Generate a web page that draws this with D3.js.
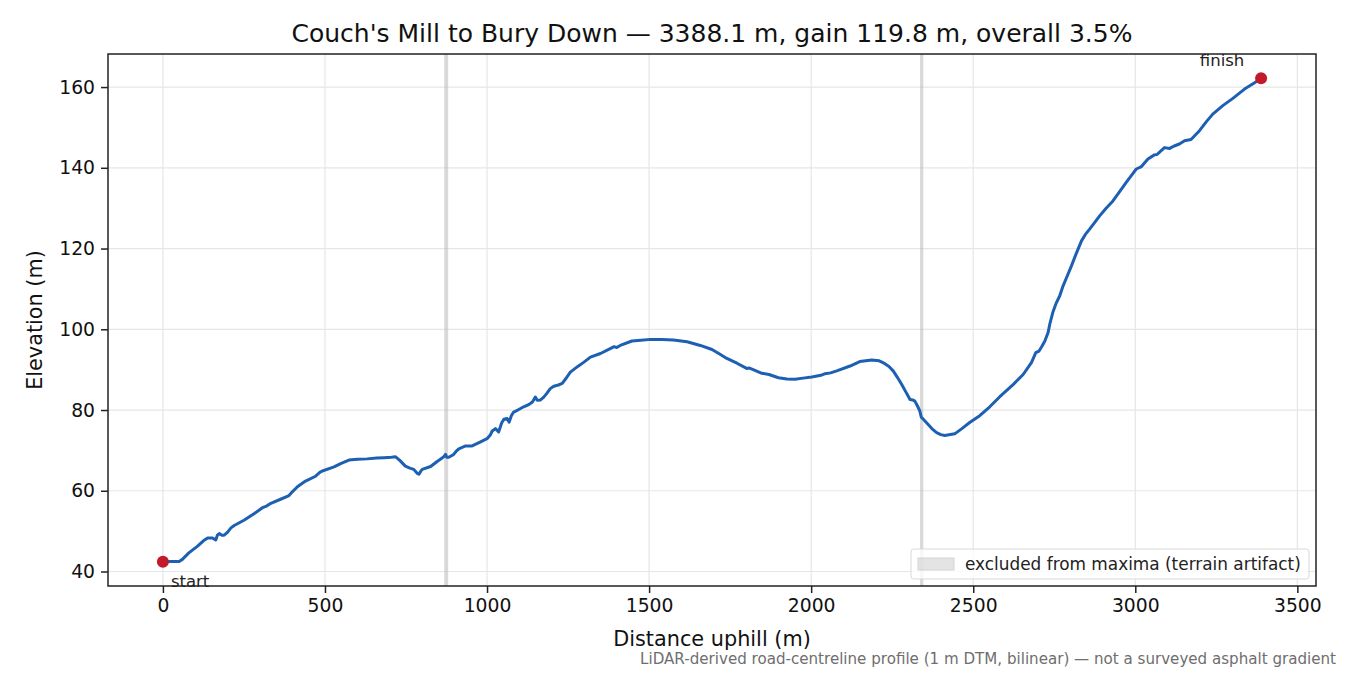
<!DOCTYPE html>
<html>
<head>
<meta charset="utf-8">
<script src="https://cdn.jsdelivr.net/npm/d3@7"></script>
<style>
  body { margin: 0; background: #fff; }
  text { font-family: "DejaVu Sans", sans-serif; }
</style>
</head>
<body>
<div class="chart"></div>
<script>
// profile samples
var distance = [0, 25, 50, 60, 80, 107, 125, 138, 153, 163, 168, 174, 182, 189, 199, 210, 220, 250, 281, 307,
  320, 333, 363, 389, 400, 415, 440, 471, 485, 492, 528, 550, 574, 600, 630, 660, 682, 705, 718, 730,
  748, 762, 774, 785, 790, 795, 800, 826, 845, 856, 866, 872, 876, 882, 897, 905, 913, 925, 934, 954,
  980, 1000, 1010, 1016, 1026, 1036, 1045, 1052, 1062, 1068, 1075, 1082, 1095, 1113, 1130, 1140, 1149, 1155, 1165, 1175,
  1185, 1195, 1206, 1220, 1232, 1245, 1257, 1280, 1298, 1319, 1350, 1380, 1392, 1400, 1411, 1447, 1475, 1504, 1540, 1575,
  1617, 1658, 1694, 1715, 1735, 1771, 1801, 1810, 1848, 1870, 1899, 1925, 1950, 1975, 2002, 2030, 2043, 2060, 2079, 2120,
  2150, 2187, 2210, 2223, 2240, 2253, 2266, 2279, 2292, 2305, 2313, 2320, 2328, 2335, 2340, 2346, 2361, 2375, 2387, 2400,
  2412, 2443, 2465, 2489, 2520, 2551, 2582, 2623, 2654, 2680, 2693, 2703, 2712, 2721, 2731, 2736, 2746, 2756, 2767, 2777,
  2790, 2803, 2818, 2834, 2846, 2859, 2875, 2890, 2910, 2931, 2950, 2972, 2990, 3003, 3019, 3039, 3059, 3067, 3075, 3090,
  3106, 3120, 3136, 3152, 3172, 3198, 3220, 3239, 3270, 3301, 3337, 3373, 3388.1];
var elevation = [42.4, 42.5, 42.5, 43.0, 44.6, 46.3, 47.6, 48.3, 48.3, 47.8, 49.0, 49.4, 49.0, 49.0, 49.7, 50.8, 51.4, 52.7, 54.3, 55.8,
  56.2, 56.9, 57.9, 58.8, 59.8, 61.0, 62.4, 63.6, 64.6, 64.9, 65.9, 66.8, 67.6, 67.8, 67.9, 68.1, 68.2, 68.3, 68.4, 67.6,
  66.1, 65.6, 65.3, 64.3, 64.1, 64.8, 65.3, 66.0, 67.2, 67.8, 68.4, 69.0, 68.3, 68.3, 69.0, 69.8, 70.4, 70.8, 71.1, 71.1,
  72.1, 72.9, 73.8, 74.8, 75.4, 74.6, 76.8, 77.7, 77.9, 77.0, 78.6, 79.5, 80.0, 80.8, 81.4, 82.0, 83.2, 82.4, 82.5, 83.2,
  84.2, 85.3, 85.9, 86.2, 86.6, 88.0, 89.4, 90.8, 91.8, 93.1, 94.0, 95.2, 95.7, 95.5, 96.0, 97.1, 97.3, 97.5, 97.45, 97.35,
  96.9, 96.0, 95.0, 94.0, 93.0, 91.6, 90.3, 90.4, 89.1, 88.8, 88.0, 87.7, 87.6, 87.9, 88.2, 88.6, 89.0, 89.2, 89.7, 90.9,
  92.0, 92.4, 92.2, 91.7, 90.8, 89.7, 88.1, 86.4, 84.5, 82.6, 82.5, 82.2, 81.0, 79.8, 78.2, 77.7, 76.4, 75.2, 74.4, 73.9,
  73.7, 74.1, 75.4, 76.9, 78.6, 80.8, 83.3, 86.3, 88.8, 91.8, 94.2, 94.6, 95.8, 97.1, 99.2, 101.2, 104.3, 106.5, 108.3, 110.7,
  113.2, 115.7, 118.8, 121.9, 123.5, 124.8, 126.5, 128.1, 130.0, 131.8, 133.9, 136.4, 138.3, 139.7, 140.3, 142.2, 143.2, 143.3, 143.9, 145.0,
  144.8, 145.4, 145.9, 146.7, 147.0, 149.2, 151.5, 153.3, 155.4, 157.2, 159.5, 161.3, 162.2];

// stretches left out of the maxima search
var excludedStart = [868, 2336];
var excludedEnd = [880, 2346];

var xTicks = [0, 500, 1000, 1500, 2000, 2500, 3000, 3500];
var yTicks = [40, 60, 80, 100, 120, 140, 160];

var titleText = "Couch's Mill to Bury Down \u2014 3388.1 m, gain 119.8 m, overall 3.5%";
var noteText = "LiDAR-derived road-centreline profile (1 m DTM, bilinear) \u2014 not a surveyed asphalt gradient";
var legendText = "excluded from maxima (terrain artifact)";

var svgWidth = 1350;
var svgHeight = 675;
var margin = { top: 54, right: 34, bottom: 89, left: 108 };
var width = svgWidth - margin.left - margin.right;
var height = svgHeight - margin.top - margin.bottom;

var svg = d3.select(".chart")
    .append("svg")
    .attr("width", svgWidth)
    .attr("height", svgHeight);

var chartGroup = svg.append("g")
    .attr("transform", `translate(${margin.left}, ${margin.top})`);

var points = distance.map((d, i) => ({ x: d, y: elevation[i] }));

// matplotlib style 5% padding
var xSpan = d3.max(distance) - d3.min(distance);
var ySpan = d3.max(elevation) - d3.min(elevation);
var xScale = d3.scaleLinear()
    .domain([d3.min(distance) - xSpan * 0.05, d3.max(distance) + xSpan * 0.05])
    .range([0, width]);
var yScale = d3.scaleLinear()
    .domain([d3.min(elevation) - ySpan * 0.05, d3.max(elevation) + ySpan * 0.05])
    .range([height, 0]);

// grid
chartGroup.append("g")
    .selectAll("line.vgrid")
    .data(xTicks)
    .join("line")
    .attr("x1", d => xScale(d)).attr("x2", d => xScale(d))
    .attr("y1", 0).attr("y2", height)
    .attr("stroke", "#e6e6e6").attr("stroke-width", 1.2);
chartGroup.append("g")
    .selectAll("line.hgrid")
    .data(yTicks)
    .join("line")
    .attr("x1", 0).attr("x2", width)
    .attr("y1", d => yScale(d)).attr("y2", d => yScale(d))
    .attr("stroke", "#e6e6e6").attr("stroke-width", 1.2);

// excluded bands
chartGroup.append("g")
    .selectAll("rect")
    .data(excludedStart)
    .join("rect")
    .attr("x", (d, i) => xScale(d))
    .attr("width", (d, i) => xScale(excludedEnd[i]) - xScale(d))
    .attr("y", 0)
    .attr("height", height)
    .attr("fill", "#b4b4b4")
    .attr("opacity", 0.5);

// profile line
var line = d3.line().x(d => xScale(d.x)).y(d => yScale(d.y));
chartGroup.append("path")
    .datum(points)
    .attr("d", line)
    .attr("fill", "none")
    .attr("stroke", "#1c5fb3")
    .attr("stroke-width", 3)
    .attr("stroke-linejoin", "round");

// start / finish markers
var ends = [points[0], points[points.length - 1]];
chartGroup.selectAll("circle")
    .data(ends)
    .join("circle")
    .attr("cx", d => xScale(d.x))
    .attr("cy", d => yScale(d.y))
    .attr("r", 6)
    .attr("fill", "#c21a2a");

chartGroup.append("text")
    .attr("x", xScale(ends[0].x) + 8)
    .attr("y", yScale(ends[0].y) + 25)
    .attr("font-size", "16.5px")
    .attr("fill", "#222")
    .text("start");
chartGroup.append("text")
    .attr("x", xScale(ends[1].x) - 39)
    .attr("y", yScale(ends[1].y) - 12)
    .attr("text-anchor", "middle")
    .attr("font-size", "16.5px")
    .attr("fill", "#222")
    .text("finish");

// axes
var bottomAxis = d3.axisBottom(xScale).tickValues(xTicks).tickFormat(d3.format("d")).tickSize(7).tickPadding(6);
var leftAxis = d3.axisLeft(yScale).tickValues(yTicks).tickFormat(d3.format("d")).tickSize(7).tickPadding(6);

var xAxis = chartGroup.append("g")
    .attr("transform", `translate(0, ${height})`)
    .call(bottomAxis);
var yAxis = chartGroup.append("g")
    .call(leftAxis);
[xAxis, yAxis].forEach(ax => {
    ax.select(".domain").remove();
    ax.selectAll(".tick line").attr("stroke", "#222").attr("stroke-width", 1.5);
    ax.selectAll(".tick text")
        .attr("font-size", "18.75px")
        .attr("fill", "#111")
        .style("font-family", "DejaVu Sans, sans-serif");
});

// frame
chartGroup.append("rect")
    .attr("width", width)
    .attr("height", height)
    .attr("fill", "none")
    .attr("stroke", "#222")
    .attr("stroke-width", 1.5);

// legend
var legend = chartGroup.append("g")
    .attr("transform", `translate(${width - 405}, ${height - 37})`);
legend.append("rect")
    .attr("width", 398).attr("height", 30).attr("rx", 3)
    .attr("fill", "#fff").attr("fill-opacity", 0.8)
    .attr("stroke", "#d9d9d9");
legend.append("rect")
    .attr("x", 7).attr("y", 9).attr("width", 36).attr("height", 12)
    .attr("fill", "#b4b4b4").attr("opacity", 0.35)
    .attr("stroke", "#888");
legend.append("text")
    .attr("x", 54).attr("y", 21)
    .attr("font-size", "16.9px")
    .attr("fill", "#222")
    .text(legendText);

// title and axis labels
svg.append("text")
    .attr("x", margin.left + width / 2)
    .attr("y", 42)
    .attr("text-anchor", "middle")
    .attr("font-size", "25px")
    .attr("fill", "#111")
    .text(titleText);
svg.append("text")
    .attr("x", margin.left + width / 2)
    .attr("y", 646)
    .attr("text-anchor", "middle")
    .attr("font-size", "20.8px")
    .attr("fill", "#111")
    .text("Distance uphill (m)");
svg.append("text")
    .attr("transform", `translate(42, ${margin.top + height / 2}) rotate(-90)`)
    .attr("text-anchor", "middle")
    .attr("font-size", "20.8px")
    .attr("fill", "#111")
    .text("Elevation (m)");
svg.append("text")
    .attr("x", 1336)
    .attr("y", 664)
    .attr("text-anchor", "end")
    .attr("font-size", "15.1px")
    .attr("fill", "#6e6e6e")
    .text(noteText);
</script>
</body>
</html>
